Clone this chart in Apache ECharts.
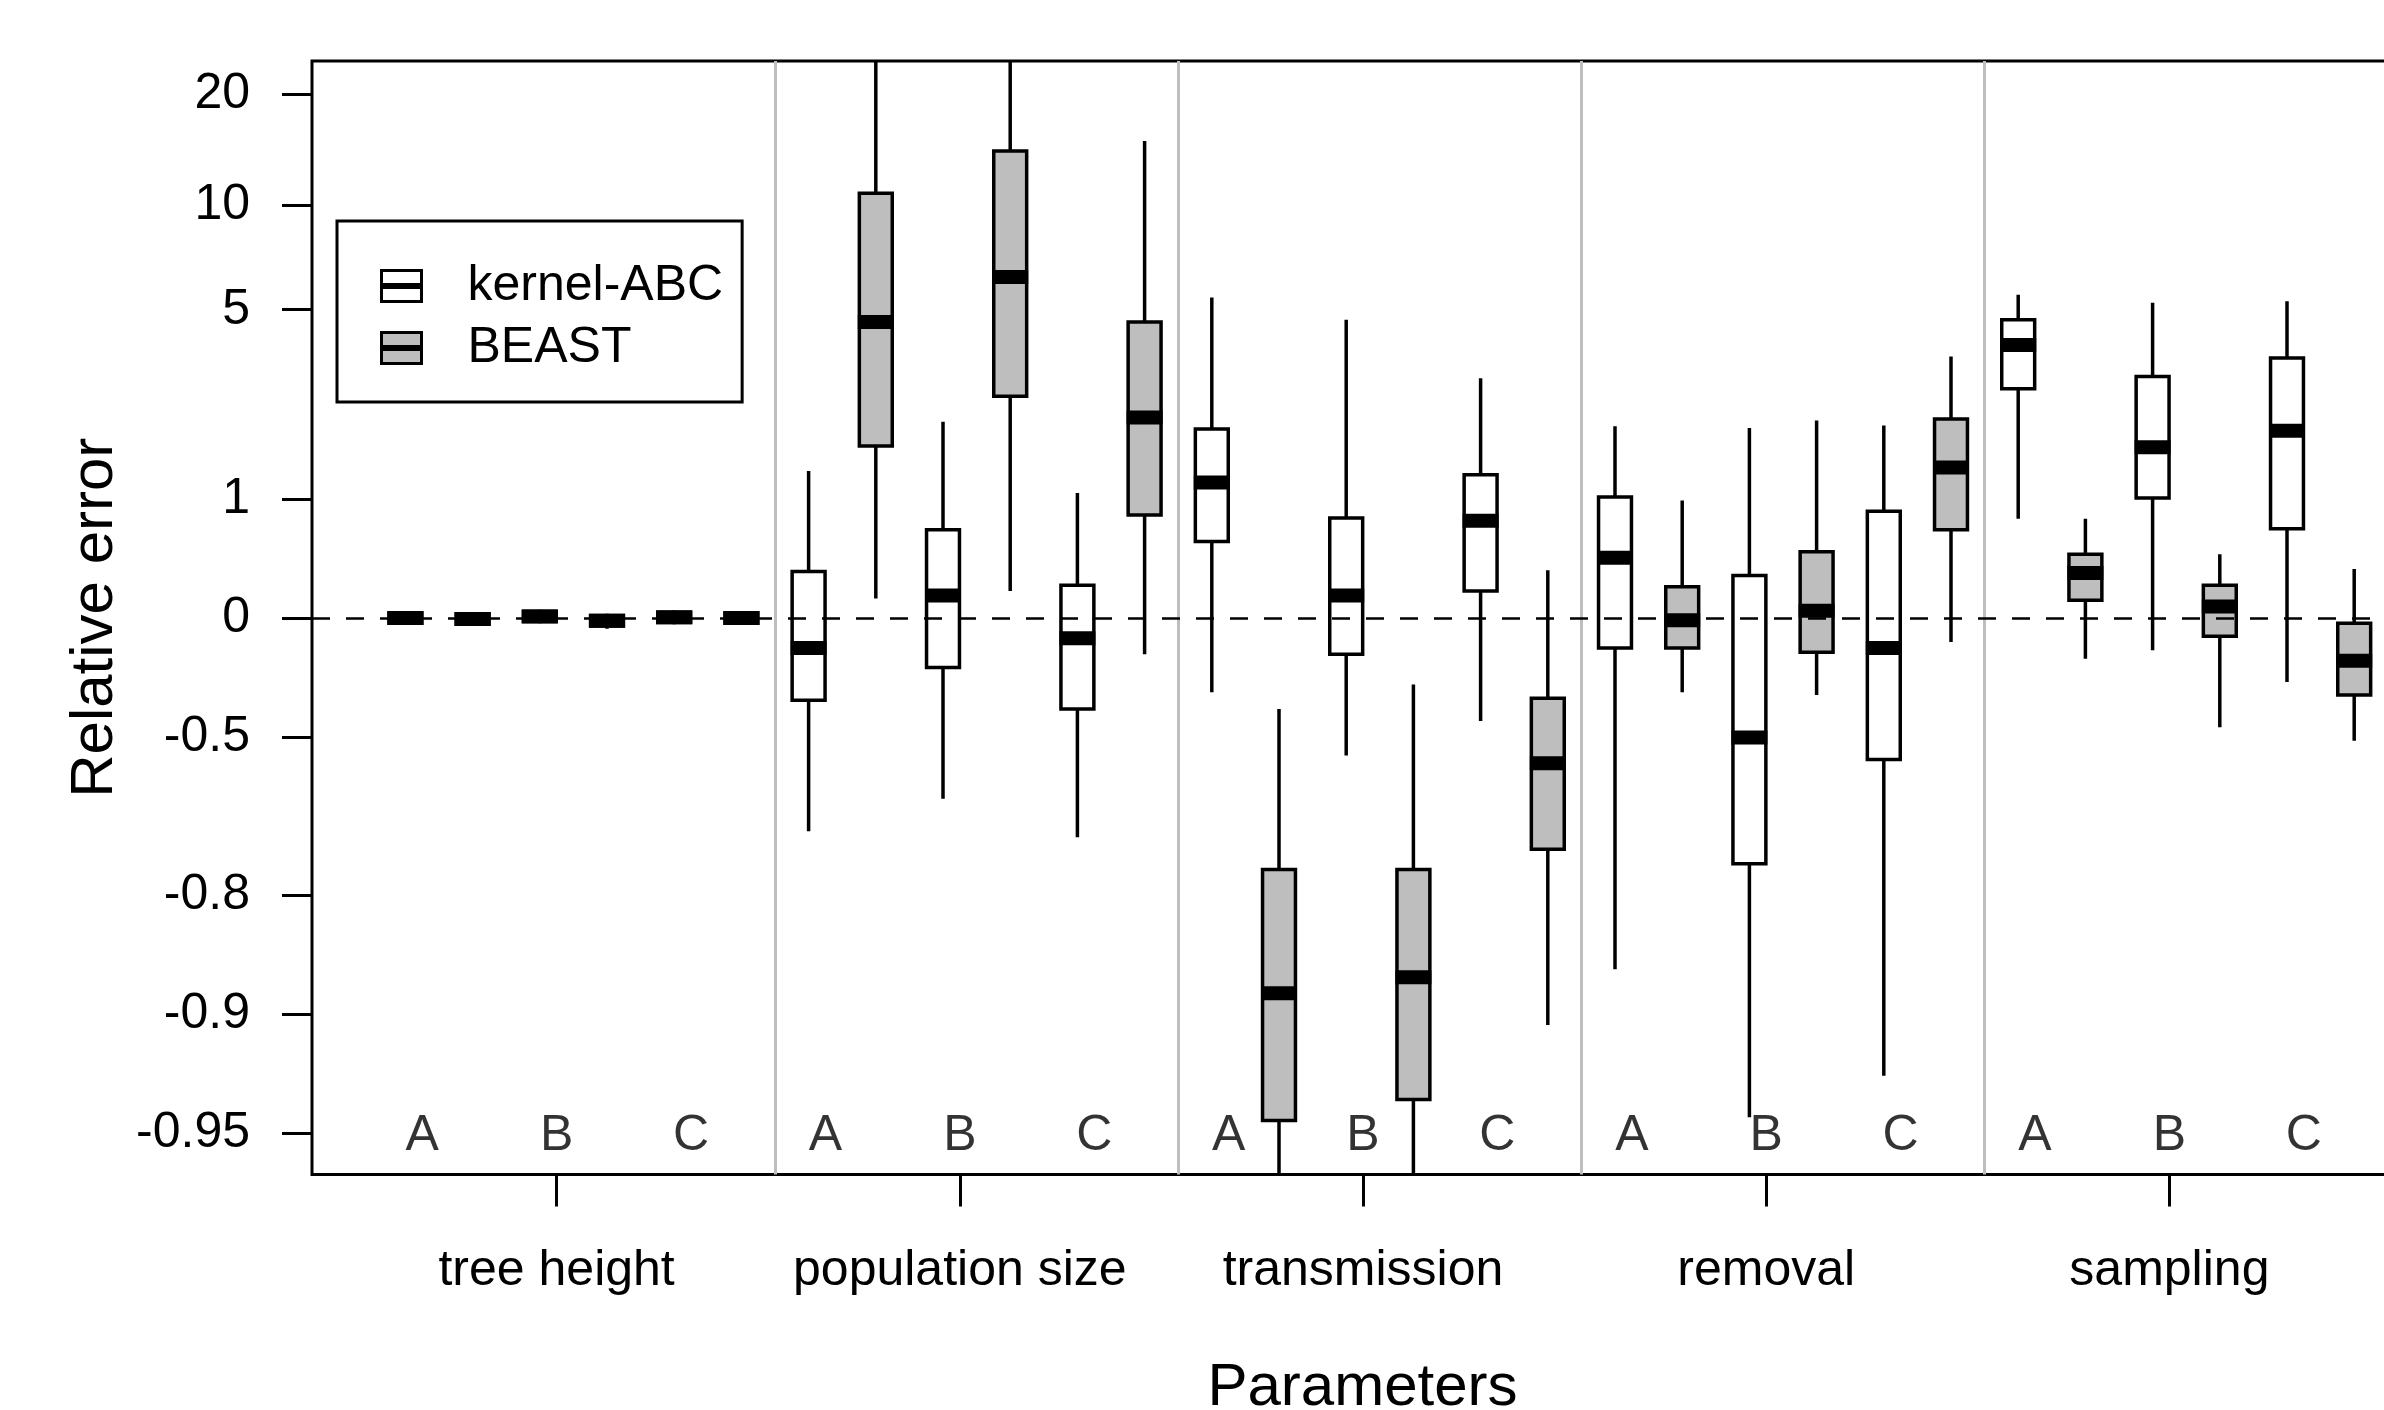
<!DOCTYPE html>
<html>
<head>
<meta charset="utf-8">
<title>Relative error</title>
<script src="https://cdn.jsdelivr.net/npm/echarts@6/dist/echarts.min.js"></script>
<style>
	html, body { margin: 0; padding: 0; background: #fff; }
	#chart { width: 2384px; height: 1410px; }
</style>
</head>
<body>
<div id="chart"></div>
<script>
var groups = ['tree height', 'population size', 'transmission', 'removal', 'sampling'];
var letters = ['A', 'B', 'C'];
var yTicks = [20, 10, 5, 1, 0, -0.5, -0.8, -0.9, -0.95];
var yTickLabels = ['20', '10', '5', '1', '0', '-0.5', '-0.8', '-0.9', '-0.95'];
var letterLevel = -0.95;

// relative error, one row per group/letter: [low whisker, Q1, median, Q3, high whisker]
var kernelABC = [
	[-0.04, -0.03, 0, 0.03, 0.04],
	[-0.03, -0.02, 0.01, 0.04, 0.05],
	[-0.035, -0.025, 0.005, 0.035, 0.045],
	[-0.71, -0.38, -0.16, 0.31, 1.35],
	[-0.65, -0.25, 0.14, 0.67, 2.13],
	[-0.72, -0.41, -0.11, 0.21, 1.07],
	[-0.35, 0.56, 1.2, 2.0, 5.44],
	[-0.55, -0.19, 0.14, 0.79, 4.66],
	[-0.45, 0.17, 0.76, 1.3, 3.03],
	[-0.87, -0.16, 0.42, 1.02, 2.05],
	[-0.945, -0.76, -0.5, 0.28, 2.02],
	[-0.93, -0.56, -0.16, 0.86, 2.06],
	[0.78, 2.79, 3.89, 4.66, 5.55],
	[-0.17, 1.01, 1.7, 3.07, 5.25],
	[-0.31, 0.68, 1.97, 3.53, 5.3]
];
var beast = [
	[-0.045, -0.035, -0.005, 0.025, 0.035],
	[-0.06, -0.045, -0.015, 0.015, 0.025],
	[-0.04, -0.03, 0, 0.03, 0.04],
	[0.12, 1.72, 4.59, 10.8, 30],
	[0.17, 2.63, 6.26, 14.1, 35],
	[-0.19, 0.82, 2.21, 4.59, 15],
	[-0.97, -0.946, -0.887, -0.768, -0.41],
	[-0.97, -0.939, -0.876, -0.768, -0.32],
	[-0.906, -0.739, -0.57, -0.372, 0.32],
	[-0.35, -0.16, -0.013, 0.2, 0.98],
	[-0.36, -0.18, 0.044, 0.47, 2.15],
	[-0.13, 0.67, 1.4, 2.18, 3.57],
	[-0.21, 0.11, 0.3, 0.45, 0.78],
	[-0.47, -0.1, 0.07, 0.21, 0.45],
	[-0.51, -0.36, -0.22, -0.03, 0.33]
];

var FONT = "'Liberation Sans', Arial, Helvetica, sans-serif";
var BOX_W = 0.49;
var ICON = 'path://M0,0L40,0L40,31L0,31Z M0,14L40,14L40,17L0,17Z';

// y axis is log(1 + relative error)
function tr(v) {
	return Math.log1p(v);
}

function boxData(rows, shift) {
	return rows.map(function(r, i) {
		var pos = i * 2 + shift;
		return [pos, tr(r[0]), tr(r[1]), tr(r[2]), tr(r[3]), tr(r[4])];
	});
}

function renderBox(params, api) {
	var x = api.value(0);
	var lo = api.coord([x, api.value(1)]);
	var q1 = api.coord([x, api.value(2)]);
	var md = api.coord([x, api.value(3)]);
	var q3 = api.coord([x, api.value(4)]);
	var hi = api.coord([x, api.value(5)]);
	var w = api.size([BOX_W, 0])[0];
	var line = { stroke: '#000', lineWidth: 3.5 };
	return {
		type: 'group',
		children: [{
			type: 'line',
			shape: { x1: lo[0], y1: lo[1], x2: q1[0], y2: q1[1] },
			style: line
		}, {
			type: 'line',
			shape: { x1: q3[0], y1: q3[1], x2: hi[0], y2: hi[1] },
			style: line
		}, {
			type: 'rect',
			shape: { x: q3[0] - w / 2, y: q3[1], width: w, height: q1[1] - q3[1] },
			style: { fill: api.visual('color'), stroke: '#000', lineWidth: 3.5 }
		}, {
			type: 'line',
			shape: { x1: md[0] - w / 2 - 1.5, y1: md[1], x2: md[0] + w / 2 + 1.5, y2: md[1] },
			style: { stroke: '#000', lineWidth: 14 }
		}]
	};
}

function pickLabel(val, list, labels) {
	for(var i = 0; i < list.length; i++) {
		if(Math.abs(list[i] - val) < 1e-6) return labels[i];
	}
	return '';
}

var yTickPos = yTicks.map(tr);
var groupTickPos = groups.map(function(g, k) {
	return k * 6 + 2.25;
});
var letterPoints = [];
groups.forEach(function(g, k) {
	letters.forEach(function(l, j) {
		letterPoints.push({ name: l, value: [k * 6 + j * 2 + 0.25, tr(letterLevel)] });
	});
});
var separators = groups.slice(1).map(function(g, k) {
	return {
		xAxis: (k + 1) * 6 - 0.5,
		lineStyle: { color: '#BEBEBE', width: 3, type: 'solid' }
	};
});

var chart = echarts.init(document.getElementById('chart'));
var option = {
	animation: false,
	backgroundColor: '#fff',
	textStyle: { fontFamily: FONT },
	grid: {
		left: 312, top: 61, width: 2101, height: 1113.5,
		outerBoundsMode: 'none',
		containLabel: false,
		show: true, borderColor: '#000', borderWidth: 3,
		backgroundColor: 'transparent'
	},
	legend: {
		orient: 'vertical',
		left: 337, top: 221,
		padding: [40, 19, 29, 43],
		itemWidth: 40, itemHeight: 31, itemGap: 12,
		selectedMode: false,
		backgroundColor: '#fff', borderColor: '#000', borderWidth: 3,
		itemStyle: { borderColor: '#000', borderWidth: 3 },
		textStyle: { fontSize: 50, color: '#000', fontFamily: FONT, lineHeight: 50, padding: [0, 0, 0, 41] },
		data: [{ name: 'kernel-ABC', icon: ICON }, { name: 'BEAST', icon: ICON }]
	},
	xAxis: {
		type: 'value',
		min: -1.39, max: 29.875,
		name: 'Parameters',
		nameLocation: 'middle',
		nameGap: 184,
		nameTextStyle: { fontSize: 60, color: '#000', fontFamily: FONT, lineHeight: 60 },
		axisLine: { show: false, onZero: false },
		splitLine: { show: false },
		axisTick: {
			show: true,
			customValues: groupTickPos,
			length: 32,
			lineStyle: { color: '#000', width: 3 }
		},
		axisLabel: {
			customValues: groupTickPos,
			margin: 72,
			fontSize: 50, color: '#000', fontFamily: FONT, lineHeight: 50,
			formatter: function(v) {
				return pickLabel(v, groupTickPos, groups);
			}
		}
	},
	yAxis: {
		type: 'value',
		min: -3.233, max: 3.237,
		name: 'Relative error',
		nameLocation: 'middle',
		nameGap: 170,
		nameTextStyle: { fontSize: 60, color: '#000', fontFamily: FONT, lineHeight: 60 },
		axisLine: { show: false, onZero: false },
		splitLine: { show: false },
		axisTick: {
			show: true,
			customValues: yTickPos,
			length: 30,
			lineStyle: { color: '#000', width: 3 }
		},
		axisLabel: {
			customValues: yTickPos,
			margin: 62,
			fontSize: 50, color: '#000', fontFamily: FONT,
			formatter: function(v) {
				return pickLabel(v, yTickPos, yTickLabels);
			}
		}
	},
	series: [{
		type: 'scatter',
		name: 'labels',
		silent: true,
		z: 1,
		symbolSize: 1,
		itemStyle: { color: 'transparent' },
		label: {
			show: true,
			position: 'inside',
			formatter: '{b}',
			offset: [0, 3],
			fontSize: 50, color: '#000', fontFamily: FONT
		},
		data: letterPoints,
		markLine: {
			silent: true,
			symbol: 'none',
			label: { show: false },
			data: separators.concat([{
				yAxis: 0,
				lineStyle: { color: '#000', width: 2.5, type: [18, 16] }
			}])
		}
	}, {
		type: 'custom',
		name: 'kernel-ABC',
		z: 3,
		clip: true,
		itemStyle: { color: '#ffffff' },
		renderItem: renderBox,
		encode: { x: 0, y: [1, 2, 3, 4, 5] },
		data: boxData(kernelABC, 0)
	}, {
		type: 'custom',
		name: 'BEAST',
		z: 3,
		clip: true,
		itemStyle: { color: '#BEBEBE' },
		renderItem: renderBox,
		encode: { x: 0, y: [1, 2, 3, 4, 5] },
		data: boxData(beast, 1)
	}]
};
chart.setOption(option);
</script>
</body>
</html>
